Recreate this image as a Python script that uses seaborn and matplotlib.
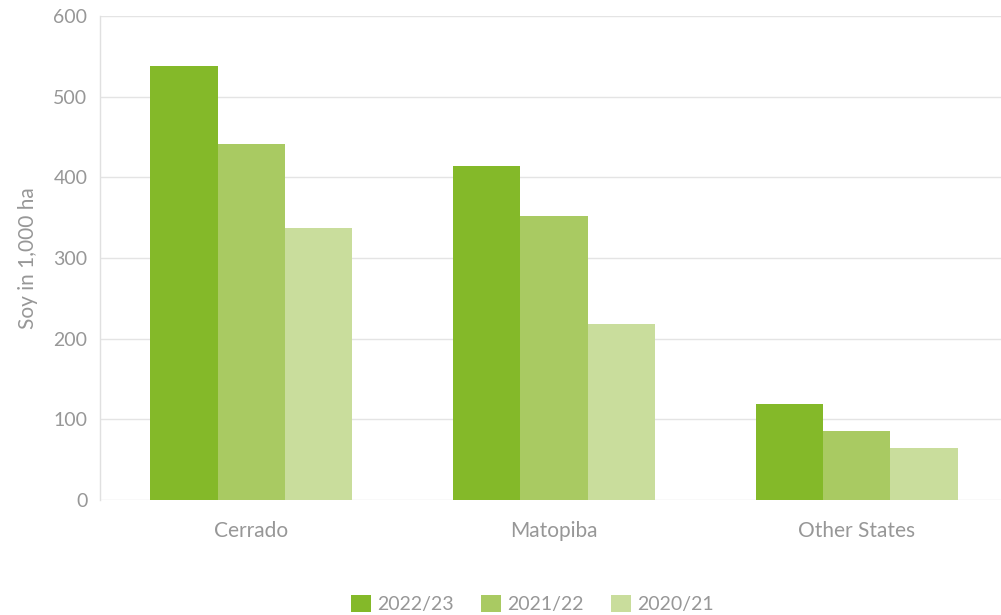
import matplotlib
matplotlib.use("Agg")
import matplotlib.pyplot as plt
import seaborn as sns
import pandas as pd
from matplotlib.patches import Patch

categories = ["Cerrado", "Matopiba", "Other States"]
seasons = ["2022/23", "2021/22", "2020/21"]
values_2022_23 = [538, 414, 119]
values_2021_22 = [441, 352, 86]
values_2020_21 = [337, 218, 64]
colors = ["#84B929", "#A9CA62", "#C9DD9C"]
yticks = [0, 100, 200, 300, 400, 500, 600]

rows = []
for s, vals in zip(seasons, [values_2022_23, values_2021_22, values_2020_21]):
    for c, v in zip(categories, vals):
        rows.append({"Region": c, "Season": s, "Value": v})
df = pd.DataFrame(rows)

sns.set_theme(style="white")
plt.rcParams["font.family"] = ["Lato", "DejaVu Sans"]
text_color = "#979797"
weight = "normal"

fig = plt.figure(figsize=(10.01, 6.15), dpi=100)
ax = fig.add_axes([100/1001, 115/615, 908/1001, 484/615])

sns.barplot(data=df, x="Region", y="Value", hue="Season", hue_order=seasons,
            palette=colors, width=0.668, saturation=1, ax=ax, legend=False,
            edgecolor="none", linewidth=0)

ax.set_ylim(0, 600)
ax.set_xlim(-0.5, 2.5)
ax.set_yticks(yticks)
ax.set_yticklabels([str(t) for t in yticks], fontsize=14, color=text_color, fontweight=weight)
ax.tick_params(axis="x", labelsize=15, colors=text_color, length=0, pad=15)
ax.tick_params(axis="y", length=0, pad=9)
for lab in ax.get_xticklabels():
    lab.set_fontweight(weight)
ax.set_xlabel("")
ax.set_ylabel("Soy in 1,000 ha", fontsize=15, color=text_color, fontweight=weight, labelpad=11)
ax.yaxis.grid(True, color="#e4e4e4", linewidth=1)
ax.set_axisbelow(True)
for side in ["top", "right", "bottom"]:
    ax.spines[side].set_visible(False)
ax.spines["left"].set_color("#e0e0e0")
ax.spines["left"].set_linewidth(1)

handles = [Patch(facecolor=c, edgecolor="none", label=s) for c, s in zip(colors, seasons)]
leg = fig.legend(handles=handles, loc="center", bbox_to_anchor=(0.532, 0.018),
                 ncol=3, frameon=False, fontsize=14, handlelength=1.0, handleheight=1.0,
                 handletextpad=0.35, columnspacing=1.4)
for t in leg.get_texts():
    t.set_color(text_color)
    t.set_fontweight(weight)

fig.savefig("out.png", dpi=100)
